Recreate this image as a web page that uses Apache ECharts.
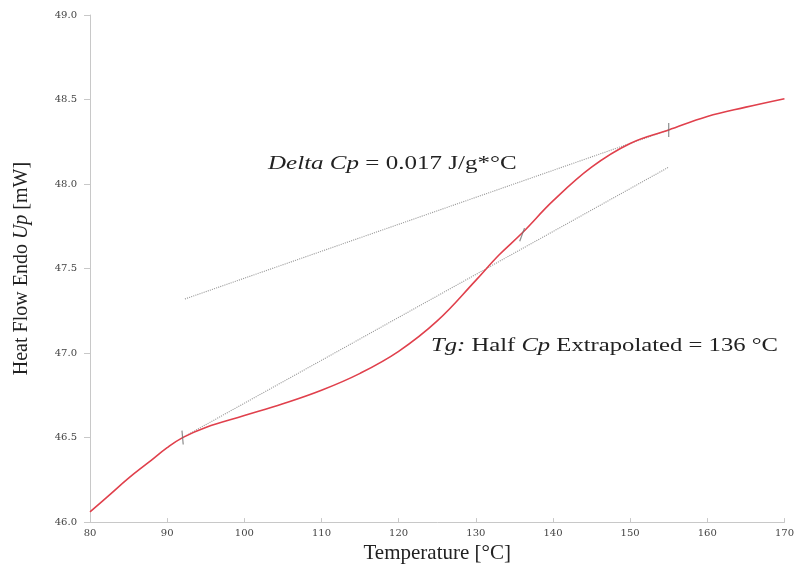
<!DOCTYPE html>
<html>
<head>
<meta charset="utf-8">
<script src="https://cdn.jsdelivr.net/npm/echarts@6/dist/echarts.min.js"></script>
<style>html,body{margin:0;padding:0;background:#fff}#c{width:797px;height:569px}</style>
</head>
<body>
<div id="c"></div>
<script>
const temps    = [80, 82.5, 85, 87.5, 90, 92, 95, 100, 105, 110, 115, 120, 125, 130, 133, 136, 140, 145, 150, 155, 160, 165, 170];
const heatFlow = [46.06, 46.16, 46.26, 46.35, 46.44, 46.50, 46.56, 46.63, 46.70, 46.78, 46.88, 47.01, 47.19, 47.43, 47.58, 47.71, 47.90, 48.10, 48.24, 48.32, 48.40, 48.455, 48.505];
const upperTanX = [92.3, 155];
const upperTanY = [47.32, 48.32];
const lowerTanX = [92, 155];
const lowerTanY = [46.50, 48.10];
const markX = [92, 136, 155];
const markY = [46.50, 47.70, 48.32];
const markRot = [5, -20, 0];
const xTicks = { min: 80, max: 170, step: 10 };
const yTicks = { min: 46, max: 49, step: 0.5 };
const xTitle = 'Temperature [°C]';
const deltaLabel = ['Delta Cp', ' = 0.017 J/g*°C'];
const tgLabel = ['Tg:', ' Half ', 'Cp', ' Extrapolated = 136 °C'];

const serif = 'Liberation Serif';
const chart = echarts.init(document.getElementById('c'));
chart.setOption({
  animation: false,
  backgroundColor: '#fff',
  grid: { left: 90, right: 12, top: 15, bottom: 42 },
  xAxis: {
    type: 'value', min: xTicks.min, max: xTicks.max, interval: xTicks.step,
    name: xTitle, nameLocation: 'middle', nameGap: 15,
    nameTextStyle: { fontFamily: serif, fontSize: 21, color: '#222' },
    axisLine: { lineStyle: { color: '#c8c8c8', width: 1 } },
    axisTick: { inside: true, length: 4, lineStyle: { color: '#c8c8c8' } },
    axisLabel: { fontFamily: 'DejaVu Serif', fontSize: 10, color: '#444', margin: 6 },
    splitLine: { show: false }
  },
  yAxis: {
    type: 'value', min: yTicks.min, max: yTicks.max, interval: yTicks.step,
    name: '{a|Heat Flow Endo }{i|Up}{a| [mW]}', nameLocation: 'middle', nameGap: 58,
    nameTextStyle: {
      padding: [0, 0, 0, 0],
      rich: {
        a: { fontFamily: serif, fontSize: 20, color: '#222' },
        i: { fontFamily: serif, fontSize: 20, fontStyle: 'italic', color: '#222' }
      }
    },
    axisLine: { show: true, lineStyle: { color: '#c8c8c8', width: 1 } },
    axisTick: { show: true, length: 6, lineStyle: { color: '#c8c8c8' } },
    axisLabel: { fontFamily: 'DejaVu Serif', fontSize: 10, color: '#444', margin: 13,
      formatter: v => v.toFixed(1) },
    splitLine: { show: false }
  },
  series: [
    {
      type: 'line', data: temps.map((t, i) => [t, heatFlow[i]]),
      smooth: 0.4, showSymbol: false,
      lineStyle: { color: '#e0404c', width: 1.6 }, z: 3
    },
    {
      type: 'line', data: upperTanX.map((t, i) => [t, upperTanY[i]]),
      showSymbol: false, lineStyle: { color: '#9a9a9a', width: 1.1, type: 'dotted' }, z: 2
    },
    {
      type: 'line', data: lowerTanX.map((t, i) => [t, lowerTanY[i]]),
      showSymbol: false, lineStyle: { color: '#9a9a9a', width: 1.1, type: 'dotted' }, z: 2
    },
    {
      type: 'scatter', data: markX.map((t, i) => ({ value: [t, markY[i]], symbolRotate: markRot[i] })),
      symbol: 'rect', symbolSize: [1.2, 14], itemStyle: { color: '#707070' }, z: 4
    }
  ],
  graphic: [
    {
      type: 'text', x: 268, y: 164, scaleX: 1.39,
      style: {
        text: '{i|' + deltaLabel[0] + '}{a|' + deltaLabel[1] + '}',
        verticalAlign: 'middle',
        rich: {
          a: { fontFamily: serif, fontSize: 18, fill: '#222' },
          i: { fontFamily: serif, fontSize: 18, fontStyle: 'italic', fill: '#222' }
        }
      }
    },
    {
      type: 'text', x: 431, y: 346, scaleX: 1.37,
      style: {
        text: '{i|' + tgLabel[0] + '}{a|' + tgLabel[1] + '}{i|' + tgLabel[2] + '}{a|' + tgLabel[3] + '}',
        verticalAlign: 'middle',
        rich: {
          a: { fontFamily: serif, fontSize: 18, fill: '#222' },
          i: { fontFamily: serif, fontSize: 18, fontStyle: 'italic', fill: '#222' }
        }
      }
    }
  ]
});
</script>
</body>
</html>
